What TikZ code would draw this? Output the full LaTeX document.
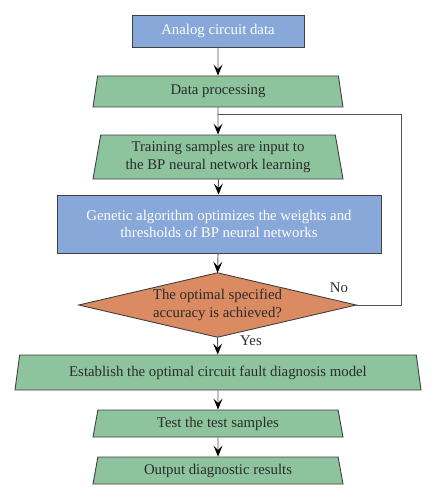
\documentclass[tikz,border=0pt]{standalone}
\usepackage{fontspec}
\setmainfont{Liberation Serif}
\usetikzlibrary{shapes.geometric,arrows.meta}
\definecolor{boxblue}{HTML}{88A8DA}
\definecolor{boxgreen}{HTML}{8DC39D}
\definecolor{boxorange}{HTML}{DA8B62}
\definecolor{edge}{HTML}{404040}
\definecolor{txt}{HTML}{2B2B2B}
\begin{document}
\begin{tikzpicture}[x=1pt,y=-1pt,
  every node/.style={font=\fontsize{14.8}{17.5}\selectfont, align=center, inner sep=0pt},
  bluebox/.style={rectangle, draw=edge, line width=0.9pt, fill=boxblue, text=white},
  greentrap/.style={trapezium, trapezium stretches body, draw=edge, line width=0.9pt, fill=boxgreen, text=txt},
  decisionframe/.style={rectangle, minimum width=277pt, minimum height=64pt},
  decisionfill/.style={draw=edge, line width=0.9pt, fill=boxorange},
  conn/.style={draw=edge!90, line width=0.9pt, -{Stealth[length=11pt,width=9pt,inset=4.5pt,black]}},
  plain/.style={draw=edge!90, line width=0.9pt},
  lbl/.style={text=txt}]
\useasboundingbox (0,0) rectangle (436,500);
\node[bluebox, minimum width=172pt, minimum height=32pt] (a) at (218,31) {Analog circuit data};
\node[greentrap, trapezium angle=70.5, minimum width=250pt, minimum height=31pt] (b) at (218,91.5) {Data processing};
\node[greentrap, trapezium angle=76, minimum width=250pt, minimum height=44pt] (c) at (218,157) {Training samples are input to\\the BP neural network learning};
\node[bluebox, minimum width=324pt, minimum height=58pt] (d) at (219,224) {Genetic algorithm optimizes the weights and\\thresholds of BP neural networks};
\node[decisionframe] (e) at (217.5,305) {};
\draw[decisionfill] (e.west) -- (e.north) -- (e.east) -- (e.south) -- cycle;
\node[text=txt] (etext) at (e.center) {The optimal specified\\accuracy is achieved?};
\node[greentrap, trapezium angle=71, minimum width=406pt, minimum height=35pt] (f) at (218,372.5) {Establish the optimal circuit fault diagnosis model};
\node[greentrap, trapezium angle=70, minimum width=250pt, minimum height=27pt] (g) at (218,423.5) {Test the test samples};
\node[greentrap, trapezium angle=70, minimum width=250pt, minimum height=27pt] (h) at (218,470.5) {Output diagnostic results};
\coordinate (corner) at (401,114);
\coordinate (join) at (218,114);
\draw[conn] (a) -- (b);
\draw[conn] (b) -- (c);
\draw[conn] (c) -- (d);
\draw[conn] (d) -- (e.north);
\draw[conn] (e.south) -- (f);
\draw[conn] (f) -- (g);
\draw[conn] (g) -- (h);
\draw[plain] (e.east) -| (corner) -- (join);
\node[lbl] (no) at (339,288) {No};
\node[lbl] (yes) at (251,341) {Yes};
\end{tikzpicture}
\end{document}
